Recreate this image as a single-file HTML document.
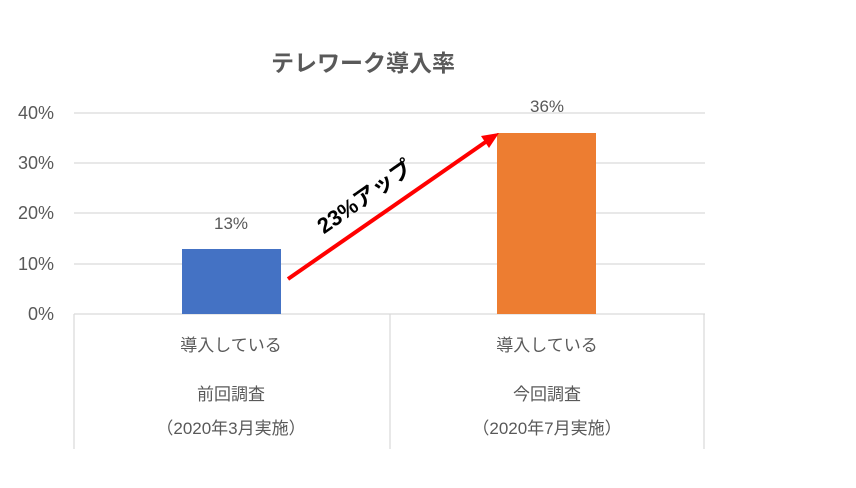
<!DOCTYPE html>
<html><head><meta charset="utf-8"><style>
body{margin:0;background:#fff;width:856px;height:483px;overflow:hidden}
svg{font-family:"Liberation Sans","Noto Sans CJK JP",sans-serif}
</style></head><body>
<svg width="856" height="483" viewBox="0 0 856 483">
<text x="363" y="71" font-size="23" font-weight="bold" fill="#595959" text-anchor="middle">テレワーク導入率</text>
<g stroke="#d9d9d9" stroke-width="1.2">
<line x1="74" y1="113" x2="705" y2="113"/>
<line x1="74" y1="163" x2="705" y2="163"/>
<line x1="74" y1="213" x2="705" y2="213"/>
<line x1="74" y1="264" x2="705" y2="264"/>
<line x1="74" y1="314" x2="705" y2="314"/>
<line x1="74" y1="314" x2="74" y2="449"/>
<line x1="390" y1="314" x2="390" y2="449"/>
<line x1="704" y1="314" x2="704" y2="449"/>
</g>
<g font-size="18" fill="#595959" text-anchor="end">
<text x="54" y="119">40%</text><text x="54" y="169">30%</text><text x="54" y="219">20%</text><text x="54" y="270">10%</text><text x="54" y="320">0%</text>
</g>
<rect x="182" y="249" width="99" height="65" fill="#4472c4"/>
<rect x="497" y="133" width="99" height="181" fill="#ed7d31"/>
<g font-size="17" fill="#595959" text-anchor="middle">
<text x="231" y="229">13%</text><text x="547" y="112">36%</text>
<text x="231" y="351">導入している</text><text x="547" y="351">導入している</text>
<text x="231" y="400">前回調査</text><text x="547" y="400">今回調査</text>
<text x="231" y="434">（2020年3月実施）</text><text x="547" y="434">（2020年7月実施）</text>
</g>
<line x1="288" y1="279" x2="487" y2="141" stroke="#ff0000" stroke-width="4"/>
<polygon points="499,133 481,136 489,148" fill="#ff0000"/>
<text x="0" y="0" font-size="22" font-weight="bold" fill="#000" text-anchor="middle" transform="translate(369,203) rotate(-35)">23%アップ</text>
</svg>
</body></html>
